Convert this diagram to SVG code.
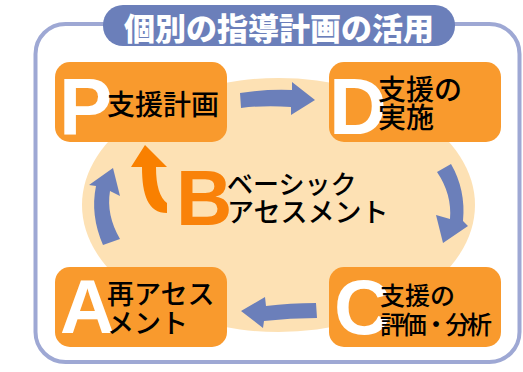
<svg xmlns="http://www.w3.org/2000/svg" width="523" height="372" viewBox="0 0 523 372">
<style>
.box{fill:#f99a2d}
.big{font-family:"Liberation Sans",Arial,sans-serif;font-weight:bold;fill:#fff}
.jp{font-family:"Noto Sans CJK JP","Noto Sans",sans-serif;font-weight:500;fill:#000}
.arr{fill:#6b7fba}
</style>
<rect id="frame" x="35.5" y="24" width="484" height="338" rx="30" fill="#fff" stroke="#9ea8d4" stroke-width="4"/>
<g id="title">
<rect x="103" y="5" width="352" height="41" rx="20" fill="#6b7fba"/>
<text x="279" y="40" text-anchor="middle" font-family="'Noto Sans CJK JP',sans-serif" font-weight="900" font-size="31" fill="#fff">個別の指導計画の活用</text>
</g>
<ellipse id="background" cx="278.5" cy="205" rx="196.5" ry="127" fill="#fde1b4"/>
<g id="connectors">
<path class="arr" d="M240 93 Q265 89 292 90 L292 82 L315 100 L291 115 L291 107 Q265 105 241 108 Z"/>
<path class="arr" d="M437 172 L451 164 Q466 190 463 221 L468 226 L443 243 L436 215 L450 219 Q452 194 437 172 Z"/>
<path class="arr" d="M316 303 Q290 303 266 306 L265 297 L241 311 L263 328 L264 321 Q290 318 317 318 Z"/>
<path class="arr" d="M103 245 Q90 215 96 186 L89 185 L113 168 L120 196 L110 191 Q106 215 120 239 Z"/>
<path fill="#f98000" d="M131 167 L145 145 L167 167 L156 167 Q156 195 167 203 L167 213 C148 213 142 195 142 167 Z"/>
</g>
<g id="nodeP">
<rect class="box" x="55" y="62" width="172" height="80" rx="15"/>
<text class="big" x="59" y="134" font-size="80">P</text>
<text class="jp" x="107" y="115" font-size="28">支援計画</text>
</g>
<g id="nodeD">
<rect class="box" x="329" y="62" width="172" height="80" rx="15"/>
<text class="big" x="329" y="134" font-size="80">D</text>
<text class="jp" x="378" y="100" font-size="28">支援の</text>
<text class="jp" x="378" y="128" font-size="28">実施</text>
</g>
<g id="nodeA">
<rect class="box" x="55" y="267" width="172" height="80" rx="15"/>
<text class="big" x="60" y="333" font-size="76">A</text>
<text class="jp" x="107" y="304" font-size="27">再アセス</text>
<text class="jp" x="107" y="333" font-size="27">メント</text>
</g>
<g id="nodeC">
<rect class="box" x="329" y="267" width="172" height="80" rx="15"/>
<text class="big" x="334" y="334" font-size="78">C</text>
<text class="jp" x="380" y="305" font-size="25">支援の</text>
<text class="jp" x="380" y="334" font-size="25" textLength="112" lengthAdjust="spacing">評価・分析</text>
</g>
<g id="nodeB">
<text x="176" y="225" font-family="'Liberation Sans',Arial,sans-serif" font-weight="bold" font-size="78" fill="#f9820a">B</text>
<text class="jp" x="227" y="194" font-size="26">ベーシック</text>
<text class="jp" x="227" y="222" font-size="27">アセスメント</text>
</g>
</svg>
